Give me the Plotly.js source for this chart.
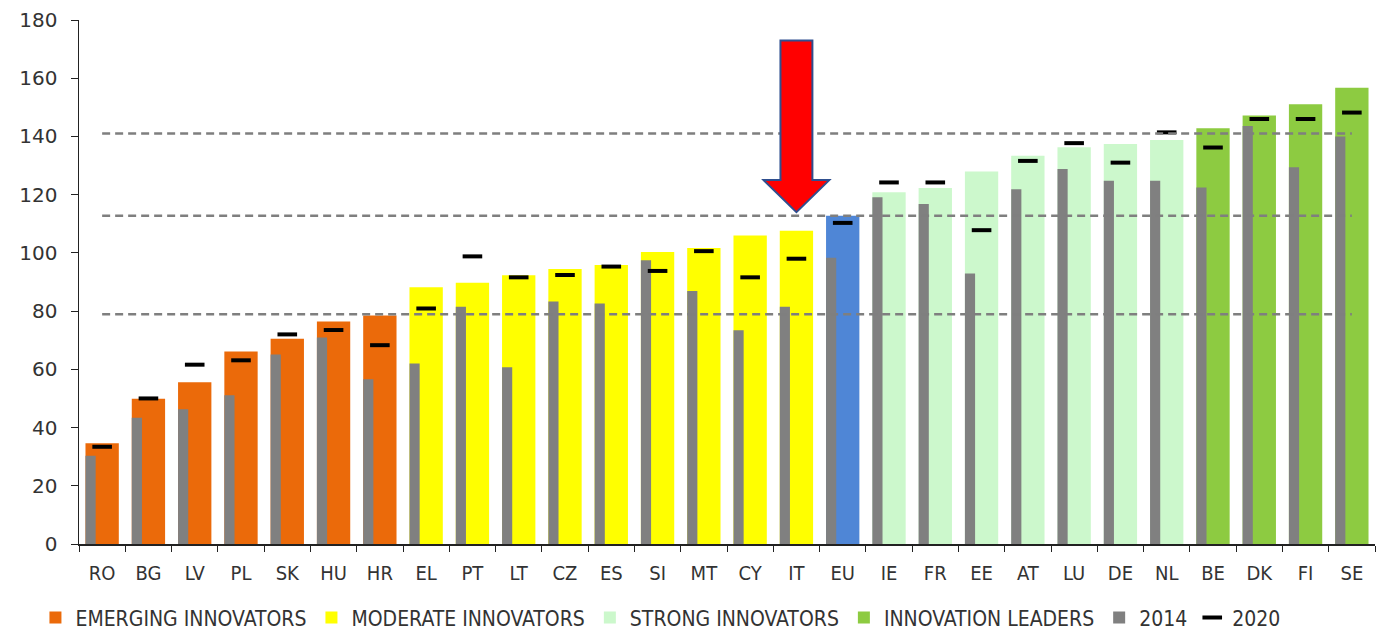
<!DOCTYPE html>
<html>
<head>
<meta charset="utf-8">
<script src="https://cdn.plot.ly/plotly-3.0.1.min.js"></script>
<style>html,body{margin:0;padding:0;background:#fff;}#chart{width:1390px;height:631px;}</style>
</head>
<body>
<div id="chart"></div>
<script>
// Data
var categories = ["RO","BG","LV","PL","SK","HU","HR","EL","PT","LT","CZ","ES","SI","MT","CY","IT","EU","IE","FR","EE","AT","LU","DE","NL","BE","DK","FI","SE"];
var scoreCurrent = [34.6,49.9,55.6,66.1,70.5,76.4,78.5,88.2,89.7,92.3,94.5,95.8,100.3,101.7,106.0,107.6,112.8,120.8,122.3,128.0,133.4,136.3,137.4,138.8,142.8,147.2,151.1,156.7];
var score2014 = [30.3,43.4,46.3,51.1,65.1,70.9,56.6,62.0,81.5,60.7,83.3,82.6,97.5,86.9,73.4,81.5,98.3,119.1,116.8,92.9,121.9,128.8,124.8,124.8,122.5,143.6,129.4,140.0];
var score2020 = [33.4,50.0,61.6,63.1,72.0,73.5,68.3,80.9,98.8,91.6,92.4,95.3,93.8,100.6,91.6,98.0,110.3,124.2,124.2,107.8,131.6,137.7,131.0,141.4,136.2,146.0,146.0,148.2];
var groupNames = ["EMERGING INNOVATORS","MODERATE INNOVATORS","EU","STRONG INNOVATORS","INNOVATION LEADERS"];
var groupSizes = [7,9,1,7,4];
var groupColors = ["#EB6A0A","#FFFF00","#4F86D6","#CCF8CC","#8DCB41"];
var thresholdFactors = [0.7,1.0,1.25];

var FONT = "DejaVu Sans Condensed, DejaVu Sans, sans-serif";
var FONT_Y = "DejaVu Sans, sans-serif";
var traces = [];
var start = 0;
for (var g = 0; g < groupNames.length; g++) {
  var n = groupSizes[g];
  traces.push({
    type: "bar",
    name: groupNames[g],
    x: categories.slice(start, start + n),
    y: scoreCurrent.slice(start, start + n),
    width: 0.72,
    marker: {color: groupColors[g], line: {width: 0}},
    showlegend: groupNames[g] !== "EU",
    hoverinfo: "x+y"
  });
  start += n;
}
traces.push({
  type: "bar",
  name: "2014",
  x: categories,
  y: score2014,
  width: 0.22,
  offset: -0.36,
  marker: {color: "#808080", line: {width: 0}}
});
traces.push({
  type: "scatter",
  mode: "markers",
  name: "2020",
  x: categories,
  y: score2020,
  marker: {symbol: "line-ew-open", size: 14, color: "#000", line: {width: 4, color: "#000"}}
});

var euValue = scoreCurrent[categories.indexOf("EU")];
var shapes = thresholdFactors.map(function (f) {
  return {type: "line", xref: "x", yref: "y", x0: 0, x1: categories.length - 1,
    y0: euValue * f, y1: euValue * f, layer: "above",
    line: {color: "#7f7f7f", width: 2.5, dash: "8px,5px"}};
});
// red arrow annotation pointing at IT
shapes.push({
  type: "path", xref: "x", yref: "y", layer: "above",
  path: "M 14.655,173 L 15.345,173 L 15.345,125 L 15.71,125 L 15,114 L 14.29,125 L 14.655,125 Z",
  fillcolor: "#FF0000", line: {color: "#2F4F8F", width: 2}
});

var layout = {
  width: 1390, height: 631,
  margin: {l: 79, r: 15, t: 20, b: 87},
  paper_bgcolor: "#fff", plot_bgcolor: "#fff",
  barmode: "overlay",
  font: {family: FONT, color: "#333"},
  xaxis: {
    type: "category", range: [-0.5, categories.length - 0.5],
    showgrid: false, showline: true, linecolor: "#222", linewidth: 1.5,
    ticks: "outside", tickson: "boundaries", ticklen: 6, tickcolor: "#222",
    ticklabelstandoff: 10,
    tickfont: {size: 20, family: FONT, color: "#333"}, fixedrange: true
  },
  yaxis: {
    range: [0, 180], dtick: 20, showgrid: false, zeroline: false,
    showline: true, linecolor: "#222", linewidth: 1.5,
    ticks: "outside", ticklen: 7, tickcolor: "#222",
    ticklabelstandoff: 9,
    tickfont: {size: 20, family: FONT_Y, color: "#333"}, fixedrange: true
  },
  shapes: shapes,
  showlegend: true,
  legend: {
    orientation: "h", xref: "container", yref: "container",
    x: 0.0255, y: 0.021, xanchor: "left", yanchor: "middle",
    font: {size: 21, family: FONT, color: "#333"},
    itemwidth: 30, tracegroupgap: 0, traceorder: "normal"
  }
};
Plotly.newPlot("chart", traces, layout, {displayModeBar: false, staticPlot: true});
</script>
</body>
</html>
